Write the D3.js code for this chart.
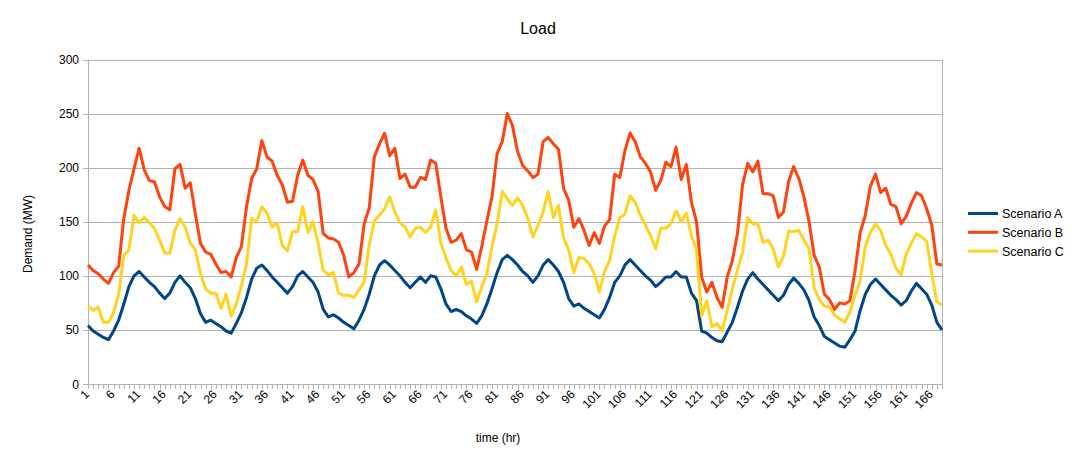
<!DOCTYPE html>
<html>
<head>
<meta charset="utf-8">
<script src="https://cdn.jsdelivr.net/npm/d3@7"></script>
<style>
  body { margin: 0; background: #fff; }
  text { font-family: "Liberation Sans", Arial, sans-serif; fill: #000; }
</style>
</head>
<body>
<div class="canvas"></div>
<script>
// hours 1..168
const hours = d3.range(1, 169);

const scenarioA = [
  54,49,46,43,41,49,59,74,90,100,104,99,94,90,84,79,84,94,100,94,89,79,65,57,59,56,53,49,47,
  56,66,80,97,107,110,105,99,94,89,84,90,100,104,99,94,85,69,62,64,61,57,54,51,59,69,83,
  100,110,114,110,105,100,94,89,94,99,94,100,99,88,74,67,69,67,63,60,56,63,74,88,103,115,119,
  115,110,104,100,94,100,110,115,110,104,94,79,72,74,70,67,64,61,69,80,94,100,110,115,110,105,100,96,
  90,94,99,99,104,99,99,84,77,49,47,43,40,39,48,57,71,86,97,103,97,92,87,82,77,82,92,
  98,93,87,77,62,54,44,41,38,35,34,41,49,68,83,92,97,92,87,82,78,73,77,86,93,88,83,73,57,50
];

const scenarioB = [
  110,105,102,97,93,103,109,153,179,199,218,198,188,187,173,164,161,199,203,181,186,157,130,122,120,111,103,104,99,
  117,127,164,190,199,225,210,206,193,184,168,169,193,207,193,189,178,139,135,134,131,119,99,103,111,148,163,
  210,222,232,211,218,190,194,182,182,191,189,207,204,173,144,131,133,139,124,122,106,127,151,173,213,224,250,
  239,215,202,197,191,194,224,228,222,217,181,170,145,153,142,128,140,130,146,152,194,191,216,232,224,210,204,196,
  179,188,205,201,219,189,203,168,150,99,85,94,80,71,99,114,139,184,204,196,206,176,176,174,154,159,187,
  201,190,173,150,119,108,83,78,69,75,74,77,105,140,156,183,194,177,181,166,164,148,155,167,177,174,162,147,111,110
];

const scenarioC = [
  72,68,71,57,57,66,83,119,124,156,149,154,149,144,133,121,121,142,153,145,130,124,102,88,84,84,70,83,63,
  74,91,111,153,150,164,158,145,149,128,123,141,141,164,140,150,130,105,101,103,84,82,82,80,87,94,129,
  151,156,162,173,159,149,145,136,144,145,140,145,161,130,117,105,100,108,92,95,76,90,102,127,148,178,171,
  165,172,165,153,136,147,159,178,154,165,135,124,103,117,116,111,102,85,104,114,137,154,157,174,168,156,147,137,
  125,144,144,148,160,150,158,137,124,63,77,53,56,49,68,88,105,122,154,148,148,131,133,125,108,118,141,
  141,142,133,125,89,78,72,71,64,60,57,67,82,96,127,140,148,142,128,120,107,101,120,130,139,136,132,102,76,73
];

const seriesNames = ['Scenario A', 'Scenario B', 'Scenario C'];
const seriesColors = ['#004586', '#ff420e', '#ffd320'];
const yTicks = [0, 50, 100, 150, 200, 250, 300];
const xLabels = hours.filter(h => (h - 1) % 5 === 0);

const width = 1077, height = 464;
const plot = { left: 88, right: 942, top: 59.5, bottom: 384 };

const svg = d3.select('.canvas')
  .append('svg')
  .attr('width', width)
  .attr('height', height);

const x = d3.scalePoint().domain(hours).range([plot.left, plot.right]);
const y = d3.scaleLinear().domain([0, 300]).range([plot.bottom, plot.top]);

// grid
svg.append('g')
  .selectAll('line')
  .data(yTicks)
  .enter().append('line')
    .attr('x1', plot.left - 5)
    .attr('x2', plot.right)
    .attr('y1', d => Math.round(y(d)) + 0.5)
    .attr('y2', d => Math.round(y(d)) + 0.5)
    .attr('stroke', '#b3b3b3');

// y axis line + right border
svg.append('line')
  .attr('x1', plot.left + 0.5).attr('x2', plot.left + 0.5)
  .attr('y1', plot.top).attr('y2', plot.bottom + 5)
  .attr('stroke', '#b3b3b3');
svg.append('line')
  .attr('x1', plot.right + 0.5).attr('x2', plot.right + 0.5)
  .attr('y1', plot.top).attr('y2', plot.bottom + 5)
  .attr('stroke', '#b3b3b3');

// x tick marks
svg.append('g')
  .selectAll('line')
  .data(hours)
  .enter().append('line')
    .attr('x1', d => Math.round(x(d)) + 0.5)
    .attr('x2', d => Math.round(x(d)) + 0.5)
    .attr('y1', plot.bottom)
    .attr('y2', plot.bottom + 5)
    .attr('stroke', '#b3b3b3');

// y tick labels
svg.append('g')
  .selectAll('text')
  .data(yTicks)
  .enter().append('text')
    .attr('x', plot.left - 9)
    .attr('y', d => y(d) + 4.5)
    .attr('text-anchor', 'end')
    .attr('font-size', 12)
    .text(d => d);

// x tick labels, rotated
svg.append('g')
  .selectAll('text')
  .data(xLabels)
  .enter().append('text')
    .attr('transform', d => `translate(${x(d) + 2}, ${plot.bottom + 11}) rotate(-45)`)
    .attr('text-anchor', 'end')
    .attr('font-size', 12)
    .text(d => d);

// lines
const line = d3.line()
  .x((d, i) => x(hours[i]))
  .y(d => y(d));

[scenarioA, scenarioB, scenarioC].forEach((s, k) => {
  svg.append('path')
    .datum(s)
    .attr('fill', 'none')
    .attr('stroke', seriesColors[k])
    .attr('stroke-width', 3)
    .attr('stroke-linejoin', 'round')
    .attr('d', line);
});

// titles
svg.append('text')
  .attr('x', 538).attr('y', 34)
  .attr('text-anchor', 'middle')
  .attr('font-size', 16)
  .text('Load');

svg.append('text')
  .attr('x', 498).attr('y', 442)
  .attr('text-anchor', 'middle')
  .attr('font-size', 12)
  .text('time (hr)');

svg.append('text')
  .attr('transform', 'translate(32, 234) rotate(-90)')
  .attr('text-anchor', 'middle')
  .attr('font-size', 12)
  .text('Demand (MW)');

// legend
const legend = svg.append('g')
  .selectAll('g')
  .data(seriesNames)
  .enter().append('g')
    .attr('transform', (d, i) => `translate(968, ${213.5 + i * 18.8})`);

legend.append('line')
  .attr('x1', 0).attr('x2', 30)
  .attr('stroke', (d, i) => seriesColors[i])
  .attr('stroke-width', 3);

legend.append('text')
  .attr('x', 34).attr('y', 4.5)
  .attr('font-size', 12.5)
  .text(d => d);
</script>
</body>
</html>
